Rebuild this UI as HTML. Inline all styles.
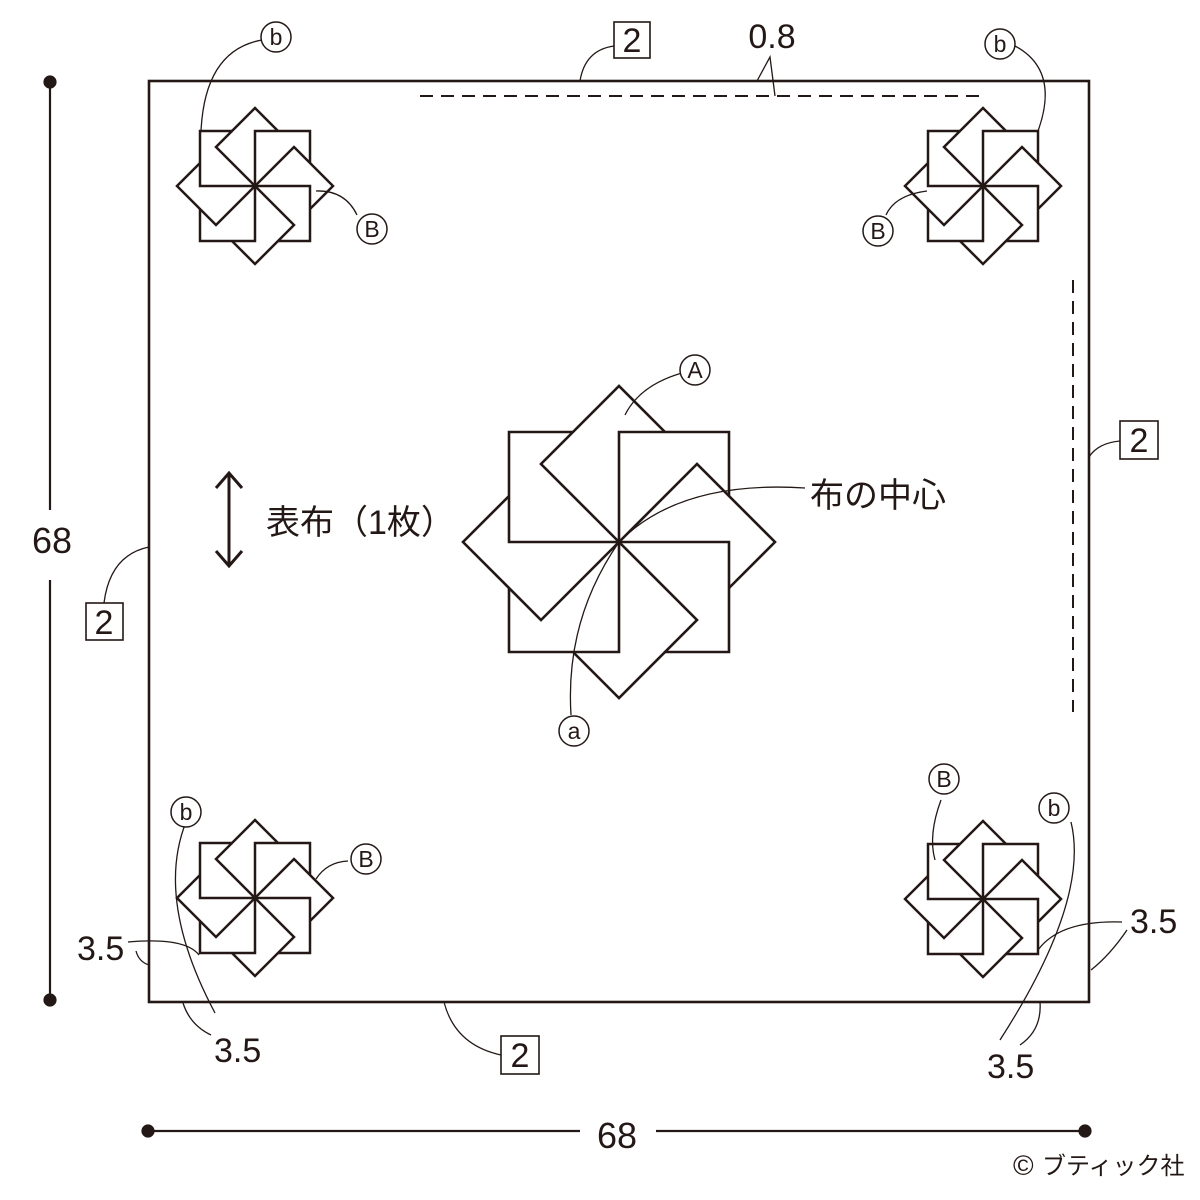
<!DOCTYPE html>
<html><head><meta charset="utf-8"><style>
html,body{margin:0;padding:0;background:#fff}
svg{display:block}
text{font-family:"Liberation Sans","Noto Sans CJK JP",sans-serif;fill:#231815}
</style></head><body>
<svg width="1200" height="1200" viewBox="0 0 1200 1200" xmlns="http://www.w3.org/2000/svg">
<defs>
<g id="q" fill="none" stroke="#231815" stroke-linejoin="miter">
<polyline points="-46,-110 -110,-110 -110,0 0,0"/>
<polyline points="0,0 -78,-78 0,-156 46,-110"/>
</g>
<g id="pw">
<use href="#q"/>
<use href="#q" transform="rotate(90)"/>
<use href="#q" transform="rotate(180)"/>
<use href="#q" transform="rotate(270)"/>
</g>
</defs>
<rect width="1200" height="1200" fill="#fff"/>
<rect x="149" y="81" width="940" height="921" fill="none" stroke="#231815" stroke-width="2.6"/>
<line x1="420" y1="96" x2="985" y2="96" stroke="#231815" stroke-width="2" stroke-dasharray="13,8"/>
<line x1="1073" y1="280" x2="1073" y2="712" stroke="#231815" stroke-width="2" stroke-dasharray="13,8"/>
<use href="#pw" transform="translate(619,542)" style="stroke-width:2.6"/>
<use href="#pw" transform="translate(255,186) scale(0.5)" style="stroke-width:5"/>
<use href="#pw" transform="translate(983,186) scale(0.5)" style="stroke-width:5"/>
<use href="#pw" transform="translate(255,898) scale(0.5)" style="stroke-width:5"/>
<use href="#pw" transform="translate(983,899) scale(0.5)" style="stroke-width:5"/>
<g stroke="#231815" stroke-width="2.2" fill="#231815">
<line x1="50" y1="82" x2="50" y2="510"/><line x1="50" y1="580" x2="50" y2="1000"/>
<circle cx="50" cy="82" r="5.5"/><circle cx="50" cy="1000" r="5.5"/>
<line x1="148" y1="1131" x2="580" y2="1131"/><line x1="656" y1="1131" x2="1085" y2="1131"/>
<circle cx="148" cy="1131" r="5.5"/><circle cx="1085" cy="1131" r="5.5"/>
</g>
<text x="52" y="553" font-size="36" text-anchor="middle">68</text>
<text x="617" y="1148" font-size="36" text-anchor="middle">68</text>
<g fill="none" stroke="#231815" stroke-width="1.3">
<path d="M580,81 Q585,50 614,46"/>
<path d="M757,81 L770,57 L775,96"/>
<path d="M104,603 Q110,555 149,547"/>
<path d="M1089,457 Q1098,443 1120,441"/>
<path d="M444,1002 Q455,1045 501,1055"/>
<path d="M619,542 Q680,480 805,488"/>
<path d="M619,542 Q565,620 571,715"/>
<path d="M682,373 Q640,385 625,415"/>
<path d="M201,131 Q205,50 262,40"/>
<path d="M316,191 Q345,190 357,215"/>
<path d="M1038,131 Q1060,70 1015,46"/>
<path d="M927,191 Q895,195 886,215"/>
<path d="M186,822 Q155,900 215,1013"/>
<path d="M128,942 Q185,937 199,955"/>
<path d="M136,951 Q139,962 149,965"/>
<path d="M183,1003 Q190,1025 211,1035"/>
<path d="M316,879 Q327,862 348,861"/>
<path d="M1071,822 Q1090,900 1000,1040"/>
<path d="M1122,922 Q1060,920 1038,950"/>
<path d="M1127,930 Q1110,955 1091,970"/>
<path d="M1040,1002 Q1042,1030 1020,1045"/>
<path d="M935,860 Q928,835 941,800"/>
</g>
<g fill="none" stroke="#231815" stroke-width="1.6">
<rect x="614" y="22" width="36" height="36"/>
<rect x="86" y="603" width="37" height="37"/>
<rect x="1120" y="421" width="38" height="38"/>
<rect x="501" y="1036" width="38" height="38"/>
</g>
<g font-size="34" text-anchor="middle">
<text x="632" y="52">2</text>
<text x="104" y="634">2</text>
<text x="1139" y="452">2</text>
<text x="520" y="1067">2</text>
</g>
<text x="772" y="48" font-size="34" text-anchor="middle">0.8</text>
<g fill="#fff" stroke="#231815" stroke-width="1.5">
<circle cx="276" cy="37" r="15"/>
<circle cx="372" cy="229" r="15"/>
<circle cx="1000" cy="44" r="15"/>
<circle cx="878" cy="231" r="15"/>
<circle cx="186" cy="812" r="15"/>
<circle cx="366" cy="859" r="15"/>
<circle cx="944" cy="779" r="15"/>
<circle cx="1054" cy="808" r="15"/>
<circle cx="695" cy="370" r="15"/>
<circle cx="574" cy="731" r="15"/>
</g>
<g font-size="23" text-anchor="middle">
<text x="276" y="45">b</text>
<text x="372" y="237">B</text>
<text x="1000" y="52">b</text>
<text x="878" y="239">B</text>
<text x="186" y="820">b</text>
<text x="366" y="867">B</text>
<text x="944" y="787">B</text>
<text x="1054" y="816">b</text>
<text x="695" y="378">A</text>
<text x="574" y="739">a</text>
</g>
<g font-size="34">
<text x="77" y="960">3.5</text>
<text x="214" y="1062">3.5</text>
<text x="1130" y="933">3.5</text>
<text x="987" y="1078">3.5</text>
</g>
<g stroke="#231815" stroke-width="3" fill="none">
<line x1="229" y1="474" x2="229" y2="565"/>
<polyline points="216,488 229,473 242,488"/>
<polyline points="216,551 229,566 242,551"/>
</g>
<text x="266" y="534" font-size="34">表布（1枚）</text>
<text x="810" y="507" font-size="34">布の中心</text>
<text x="1013" y="1175" font-size="28">©</text>
<text x="1042" y="1174" font-size="24">ブティック社</text>
</svg>
</body></html>
